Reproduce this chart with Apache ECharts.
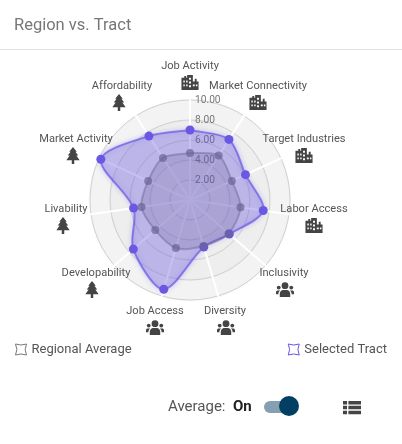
<!DOCTYPE html>
<html>
<head>
<meta charset="utf-8">
<style>html,body{margin:0;padding:0;background:#fff}#c{width:402px;height:444px}</style>
<script src="https://cdn.jsdelivr.net/npm/echarts@6/dist/echarts.min.js"></script>
</head>
<body>
<div id="c"></div>
<script>
const categories = ['Job Activity','Market Connectivity','Target Industries','Labor Access','Inclusivity','Diversity','Job Access','Developability','Livability','Market Activity','Affordability'];
const selectedTract = [7.0,7.2,6.1,7.4,5.2,4.9,9.3,7.5,5.7,9.8,7.6];
const regionalAverage = [4.7,5.3,4.6,5.1,5.1,4.8,5.0,4.6,4.9,4.6,5.0];
const iconKinds = ['b','b','b','b','u','u','u','t','t','t','t'];
const labelX = [190,258,304,314,284,225,155,96,66,76,122];
const labelY = [66,86,139,209,273,311,311,273,209,139,86];
const iconX = [190,258,304,314,285,226,155,92,63,73,119];
const maxValue = 10;
// ECharts lays radar axes counter-clockwise; the chart reads clockwise.
const ccw = a => [a[0], ...a.slice(1).reverse()];

const ink = '#444';
function svg(body){return 'data:image/svg+xml;charset=utf-8,'+encodeURIComponent('<svg xmlns="http://www.w3.org/2000/svg" width="60" height="54" viewBox="0 0 20 18" fill="'+ink+'">'+body+'</svg>');}
const icons = {
  b: svg('<path fill-rule="evenodd" d="M1 4H4V2H6V4H7V1H13V8H15V5H17V8H19V17H1ZM3 7V9H4.5V7ZM6 7V9H7.5V7ZM9 4V6H11V4ZM3 11V13H4.5V11ZM6 11V13H7.5V11ZM9 8V10H11V8ZM9 12V14H11V12ZM13 11V13H15V11ZM16.2 11V13H17.8V11Z"/>'),
  t: svg('<path d="M10 0L14 5H12.5L15.5 9H13.5L17 14H11.3V18H8.7V14H3L6.5 9H4.5L7.5 5H6Z"/>'),
  u: svg('<circle cx="10" cy="5" r="3.6"/><circle cx="3.4" cy="7" r="2"/><circle cx="16.6" cy="7" r="2"/><path d="M4.5 17V13.5C4.5 11 6.5 9.5 8 9.5H12C13.5 9.5 15.5 11 15.5 13.5V17ZM0.5 14V12C0.5 10.5 1.5 10 2.5 10H5C3.5 11 3 12.5 3 14ZM19.5 14V12C19.5 10.5 18.5 10 17.5 10H15C16.5 11 17 12.5 17 14Z"/>')
};
const tableIcon = svg('<path d="M0 1H4.5V5H0ZM6 1H20V5H6ZM0 6.5H4.5V10.5H0ZM6 6.5H20V10.5H6ZM0 12H4.5V16H0ZM6 12H20V16H6Z"/>');

const labelFont = 'Roboto, sans-serif';
const uiFont = 'Roboto, sans-serif';
const graphics = [
  {type:'text',x:14,y:26,style:{text:'Region vs. Tract',font:'400 16.5px '+uiFont,fill:'#777',textVerticalAlign:'middle'}},
  {type:'rect',shape:{x:0,y:49,width:402,height:1},style:{fill:'#e2e2e2'}},
  {type:'text',x:168,y:407,style:{text:'Average:',font:'400 15px '+uiFont,fill:'#555',textVerticalAlign:'middle'}},
  {type:'text',x:233,y:407,style:{text:'On',font:'700 15px '+uiFont,fill:'#222',textVerticalAlign:'middle'}},
  {type:'rect',shape:{x:264,y:401,width:30,height:12,r:6},style:{fill:'#85a0b2'}},
  {type:'circle',shape:{cx:289,cy:406,r:10},style:{fill:'#033f63'}},
  {type:'image',style:{image:tableIcon,x:343,y:400,width:18,height:16}}
];
categories.forEach((name,i)=>{
  graphics.push({type:'text',x:labelX[i],y:labelY[i],z:10,style:{text:name,font:'400 11.1px '+labelFont,fill:'#555',textAlign:'center',textVerticalAlign:'middle'}});
  graphics.push({type:'image',z:10,style:{image:icons[iconKinds[i]],x:iconX[i]-9.5,y:labelY[i]+8,width:19,height:17}});
});

const iconPath = 'path://M1,1 Q5,2.5 9,1 Q7,5 9,9 Q5,7.5 1,9 Q3,5 1,1Z';
const chart = echarts.init(document.getElementById('c'),null,{renderer:'canvas'});
chart.setOption({
  animation:false,
  graphic:{elements:graphics},
  legend:[
    {data:['Regional Average'],left:10,top:338,itemWidth:11,itemHeight:11,itemGap:4,icon:iconPath,
     itemStyle:{color:'transparent',borderColor:'#777',borderWidth:1},
     textStyle:{fontFamily:uiFont,fontSize:13,color:'#555'},selectedMode:false},
    {data:['Selected Tract'],right:10,top:338,itemWidth:11,itemHeight:11,itemGap:4,icon:iconPath,
     itemStyle:{color:'transparent',borderColor:'#6655e6',borderWidth:1},
     textStyle:{fontFamily:uiFont,fontSize:13,color:'#555'},selectedMode:false}
  ],
  radar:{
    center:[190,200],radius:100,shape:'circle',splitNumber:5,startAngle:90,
    axisName:{show:false},
    indicator:ccw(categories).map((name,i)=>({
      name,max:maxValue,min:0,
      axisLabel:i===0?{show:true,color:'#777',fontSize:10.2,fontFamily:labelFont,margin:-5,align:'left',formatter:v=>v===0?'':v.toFixed(2)}:undefined
    })),
    axisLine:{show:true,lineStyle:{color:'#fff',width:2}},
    axisTick:{show:false},
    splitLine:{lineStyle:{color:'#cfcfcf',width:1}},
    splitArea:{show:true,areaStyle:{color:['#f3f3f3','#eeeeee','#eeeeee','#f0f0f0','#f4f4f4'].reverse(),shadowBlur:3,shadowColor:'rgba(0,0,0,0.06)'}}
  },
  series:[
    {name:'Selected Tract',type:'radar',symbol:'circle',symbolSize:9,
     itemStyle:{color:'#6a58e4'},
     lineStyle:{color:'#6655e6',width:2},
     areaStyle:{color:'rgba(98,76,222,0.37)'},
     data:[{value:ccw(selectedTract),name:'Selected Tract'}]},
    {name:'Regional Average',type:'radar',symbol:'circle',symbolSize:8,
     itemStyle:{color:'rgba(105,98,145,0.7)'},
     lineStyle:{color:'rgba(105,98,145,0.65)',width:2},
     areaStyle:{color:'rgba(100,90,130,0.3)'},
     data:[{value:ccw(regionalAverage),name:'Regional Average'}]}
  ]
});
// Radar series have no smoothing option: round the closed outlines ECharts drew.
const outlineStyles = [
  {stroke:'#6655e6',lineWidth:2,shadowBlur:5,shadowColor:'rgba(102,85,230,0.5)'},
  {stroke:'rgba(105,98,145,0.65)',lineWidth:2}
];
let polygonIndex = 0;
chart.getZr().storage.getDisplayList(true).forEach(el=>{
  if (el.type==='polyline') { el.ignore = true; el.dirty(); }
  if (el.type==='polygon' && polygonIndex<outlineStyles.length) {
    el.setShape({smooth:0.3});
    el.setStyle(outlineStyles[polygonIndex++]);
  }
});
chart.getZr().refresh();
</script>
</body>
</html>
